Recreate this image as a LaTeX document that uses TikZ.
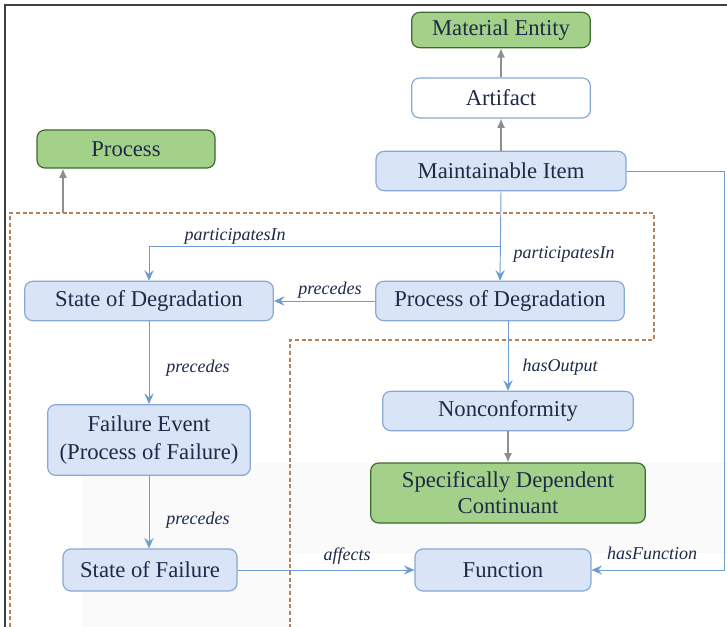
\documentclass[tikz,border=0pt]{standalone}
\usepackage{fontspec}
\setmainfont{LiberationSerif}[Extension=.ttf, UprightFont=*-Regular, ItalicFont=*-Italic, BoldFont=*-Bold, BoldItalicFont=*-BoldItalic]
\usetikzlibrary{arrows.meta}
\definecolor{gfill}{HTML}{A3D18A}
\definecolor{gdraw}{HTML}{3E6B2E}
\definecolor{bfill}{HTML}{D9E5F6}
\definecolor{bdraw}{HTML}{86A9D6}
\definecolor{txt}{HTML}{1E2A48}
\definecolor{barrow}{HTML}{6D9CD3}
\definecolor{garrow}{HTML}{8E8E8E}
\definecolor{dashc}{HTML}{B5835A}
\tikzset{
  box/.style={rounded corners=6pt, inner sep=0pt, align=center, text=txt,
    font=\fontsize{17}{20.5}\selectfont, line width=0.9pt},
  greenbox/.style={box, fill=gfill, draw=gdraw},
  bluebox/.style={box, fill=bfill, draw=bdraw},
  whitebox/.style={box, fill=white, draw=bdraw},
  isa/.style={draw=garrow, line width=0.9pt, -{Latex[length=7pt,width=6pt]}},
  rel/.style={draw=barrow, line width=0.7pt, -{Stealth[length=8pt,width=7pt,inset=3pt]}},
  lab/.style={font=\fontsize{13.5}{15}\selectfont\itshape, text=txt, inner sep=1pt}
}
\begin{document}
\begin{tikzpicture}[x=0.75pt,y=-0.75pt]
\useasboundingbox (0,0) rectangle (727,627);
\fill[white] (0,0) rectangle (727,627);
% faint background watermark
\fill[gray!4] (82,463) rectangle (727,553);
\fill[gray!4] (82,553) rectangle (290,627);
% frame
\draw[black!75, line width=1.5pt] (5,627) -- (5,5) -- (727,5);
% dashed region
\draw[dashc, line width=1pt, dash pattern=on 3pt off 2pt]
  (10,627) -- (10,213) -- (654,213) -- (654,340) -- (290,340) -- (290,627);
% nodes
\node[greenbox, minimum width=134pt, minimum height=26.5pt] (ME) at (501,30) {Material Entity};
\node[whitebox, minimum width=134pt, minimum height=30pt] (AR) at (501,98) {Artifact};
\node[greenbox, minimum width=133.5pt, minimum height=28.5pt] (PR) at (126,149) {Process};
\node[bluebox, minimum width=187.5pt, minimum height=29.5pt] (MI) at (501,171) {Maintainable Item};
\node[bluebox, minimum width=186.5pt, minimum height=29.5pt] (SD) at (149,301) {State of Degradation};
\node[bluebox, minimum width=186.5pt, minimum height=29.5pt] (PD) at (500,301) {Process of Degradation};
\node[bluebox, minimum width=188pt, minimum height=29.5pt] (NC) at (508,411) {Nonconformity};
\node[bluebox, minimum width=152pt, minimum height=53pt] (FE) at (149,440) {Failure Event\\(Process of Failure)};
\node[greenbox, minimum width=206pt, minimum height=45pt, font=\fontsize{17}{19.5}\selectfont] (SC) at (508,493) {Specifically Dependent\\Continuant};
\node[bluebox, minimum width=130.5pt, minimum height=31.5pt] (SF) at (150,570) {State of Failure};
\node[bluebox, minimum width=132pt, minimum height=31.5pt] (FN) at (503,570) {Function};
% coordinates
\coordinate (pa) at (63,213);
\coordinate (br) at (501,246);
\coordinate (rc) at (724,0);
% is-a arrows
\draw[isa] (AR.north) -- (ME.south);
\draw[isa] (MI.north) -- (AR.south);
\draw[isa] (pa) -- (pa |- PR.south);
\draw[isa] (NC.south) -- (SC.north);
% relations
\draw[rel] (MI.south) -- (PD.north);
\draw[rel] (br) -| (SD.north);
\draw[rel] (PD.west) -- (SD.east);
\draw[rel] (SD.south) -- (FE.north);
\draw[rel] (FE.south) -- (FE.south |- SF.north);
\draw[rel] (PD.south -| NC.north) -- (NC.north);
\draw[rel] (SF.east) -- (FN.west);
\draw[rel] (MI.east) -- (MI.east -| rc) -- (rc |- FN.east) -- (FN.east);
% labels
\node[lab] (l1) at (235,236) {participatesIn};
\node[lab] (l2) at (564,254) {participatesIn};
\node[lab] (l3) at (330,290) {precedes};
\node[lab] (l4) at (198,368) {precedes};
\node[lab] (l5) at (198,520) {precedes};
\node[lab] (l6) at (560,367) {hasOutput};
\node[lab] (l7) at (347,556) {affects};
\node[lab] (l8) at (652,553) {hasFunction};
\end{tikzpicture}
\end{document}
